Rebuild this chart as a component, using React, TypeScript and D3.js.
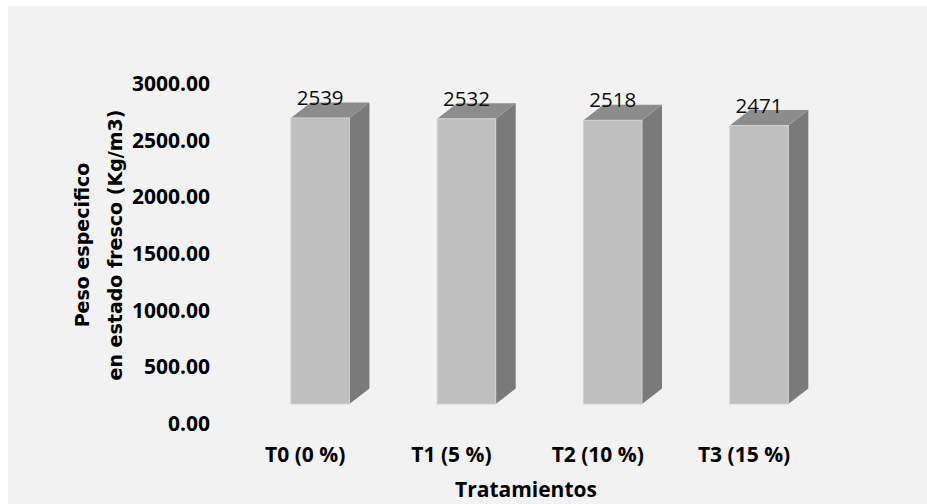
import React from "react";
import * as d3 from "d3";

const categories = ["T0 (0 %)", "T1 (5 %)", "T2 (10 %)", "T3 (15 %)"];
const values = [2539, 2532, 2518, 2471];
const tickValues = [0, 500, 1000, 1500, 2000, 2500, 3000];

const W = 927;
const H = 504;

// 3D extrusion offsets of each column (depth toward upper right)
const DX = 20;
const DY = -15.5;

export default function App() {
  // scale used by the front faces of the columns
  const yBar = d3.scaleLinear().domain([0, 3000]).range([404, 66]);
  // scale used for the axis tick labels (sits slightly lower, on the floor edge)
  const yTick = d3.scaleLinear().domain([0, 3000]).range([423.5, 83.5]);

  const x = d3
    .scaleBand()
    .domain(categories)
    .range([247, 832.2])
    .paddingInner(0.6)
    .paddingOuter(0.3);

  const bw = x.bandwidth();

  return (
    <svg
      width={W}
      height={H}
      style={{ position: "absolute", left: 0, top: 0, display: "block" }}
    >
      <rect x={0} y={0} width={W} height={H} fill="#ffffff" />
      <rect x={8} y={6} width={W - 8} height={H - 6} fill="#f2f2f2" />

      {/* y axis tick labels */}
      <g
        fontFamily="'Open Sans', sans-serif"
        fontWeight="bold"
        fontSize={21}
        fill="#000"
        textAnchor="end"
      >
        {tickValues.map((t) => (
          <text key={t} x={210} y={yTick(t)} dy="0.35em">
            {d3.format(".2f")(t)}
          </text>
        ))}
      </g>

      {/* columns */}
      {values.map((v, i) => {
        const x0 = x(categories[i]) as number;
        const x1 = x0 + bw;
        const yt = yBar(v);
        const yb = yBar(0);
        const top = `M${x0},${yt} L${x0 + DX},${yt + DY} L${x1 + DX},${yt + DY} L${x1},${yt} Z`;
        const side = `M${x1},${yt} L${x1 + DX},${yt + DY} L${x1 + DX},${yb + DY} L${x1},${yb} Z`;
        return (
          <g key={categories[i]}>
            <path d={side} fill="#7a7a7a" />
            <path d={top} fill="#8c8c8c" />
            <rect
              x={x0}
              y={yt}
              width={bw}
              height={yb - yt}
              fill="#bfbfbf"
              stroke="#d2d2d2"
              strokeWidth={1}
            />
            <text
              x={x0 + bw / 2}
              y={yt + DY + 2.5}
              textAnchor="middle"
              fontFamily="'Open Sans', sans-serif"
              fontSize={20.5}
              fill="#0d0d0d"
            >
              {v}
            </text>
          </g>
        );
      })}

      {/* category labels */}
      <g
        fontFamily="'Open Sans', sans-serif"
        fontWeight="bold"
        fontSize={21}
        fill="#000"
        textAnchor="middle"
      >
        {categories.map((c) => (
          <text key={c} x={(x(c) as number) + bw / 2 - 15} y={461.5}>
            {c}
          </text>
        ))}
      </g>

      {/* axis titles */}
      <text
        x={526}
        y={497}
        textAnchor="middle"
        fontFamily="'Open Sans', sans-serif"
        fontWeight="bold"
        fontSize={21}
        fill="#000"
      >
        Tratamientos
      </text>
      <g
        transform="translate(0,245) rotate(-90)"
        fontFamily="'DejaVu Sans', sans-serif"
        fontWeight="bold"
        fontSize={19}
        fill="#000"
        textAnchor="middle"
      >
        <text x={0} y={89}>Peso especifico</text>
        <text x={0} y={122}>en estado fresco (Kg/m3)</text>
      </g>
    </svg>
  );
}
